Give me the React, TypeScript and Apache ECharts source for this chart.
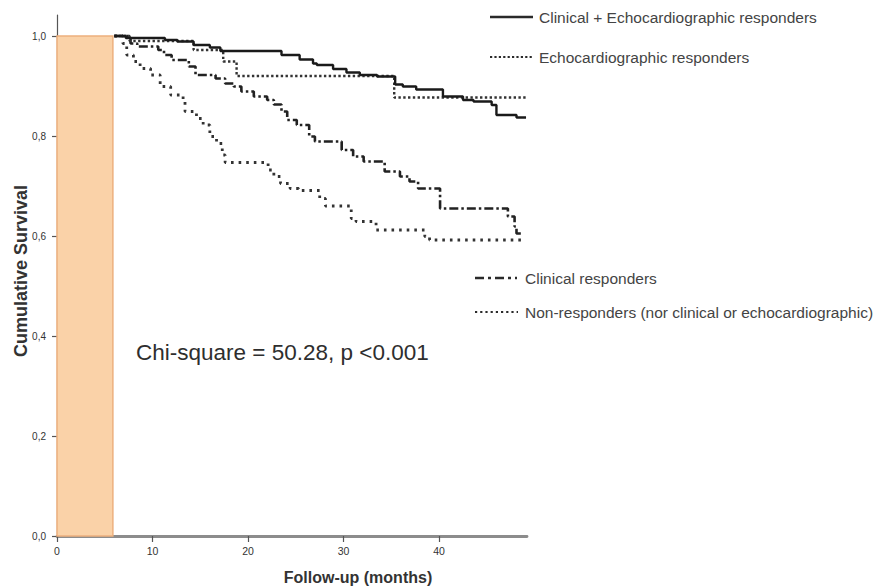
import React, { useEffect, useRef } from "react";
import * as echarts from "echarts";

// ---- data (months, cumulative survival) ----
const xTicks = [0, 10, 20, 30, 40];
const yTicks = [0, 0.2, 0.4, 0.6, 0.8, 1.0];

const seriesNames = [
  "Clinical + Echocardiographic responders",
  "Echocardiographic responders",
  "Clinical responders",
  "Non-responders (nor clinical or echocardiographic)",
];

const clinEcho: [number, number][] = [
  [6, 1.0], [7.2, 0.996], [11.3, 0.992], [12.6, 0.989], [14.3, 0.982], [16, 0.977],
  [17.1, 0.97], [23.5, 0.962], [25.4, 0.953], [26.8, 0.945], [27.2, 0.942],
  [28.9, 0.934], [30.3, 0.927], [31.7, 0.922], [33.5, 0.919], [35.4, 0.903],
  [36.2, 0.899], [37.6, 0.893], [40.4, 0.879], [42.5, 0.872], [43.6, 0.869],
  [45.5, 0.862], [46, 0.842], [48.1, 0.837], [49.1, 0.837],
];

const echoResp: [number, number][] = [
  [6, 1.0], [7.6, 0.99], [14.3, 0.972], [17.4, 0.949], [18.8, 0.92],
  [35.3, 0.877], [49.1, 0.877],
];

const clinResp: [number, number][] = [
  [6, 1.0], [7.7, 0.985], [8.4, 0.979], [10.6, 0.972], [11.2, 0.962], [12, 0.952],
  [13.8, 0.939], [14.5, 0.922], [16.6, 0.915], [17.6, 0.905], [18.5, 0.899],
  [19.3, 0.889], [20.6, 0.879], [22, 0.872], [22.7, 0.863], [23.5, 0.849],
  [24.1, 0.832], [25.1, 0.822], [26.4, 0.799], [27, 0.789], [29.8, 0.772],
  [31, 0.759], [32.1, 0.749], [34.3, 0.729], [35.9, 0.719], [36.9, 0.709],
  [37.8, 0.695], [40.1, 0.655], [47.2, 0.639], [47.9, 0.619], [48.1, 0.605],
  [48.8, 0.605],
];

const nonResp: [number, number][] = [
  [6, 1.0], [6.9, 0.985], [7.3, 0.962], [8, 0.949], [8.7, 0.935], [9.8, 0.922],
  [10.8, 0.899], [11.9, 0.882], [13.2, 0.869], [13.4, 0.849], [14.6, 0.835],
  [15.3, 0.822], [16, 0.799], [16.7, 0.785], [17.3, 0.762], [17.6, 0.747],
  [22.1, 0.732], [22.7, 0.719], [23.4, 0.705], [24.4, 0.695], [25.3, 0.691],
  [27.5, 0.675], [28.1, 0.66], [30.8, 0.635], [31.3, 0.629], [33.4, 0.612],
  [38.5, 0.599], [39, 0.592], [48.6, 0.592],
];

const shadedMonths = [0, 5.85];
const chiText = "Chi-square = 50.28, p <0.001";

export default function App() {
  const ref = useRef<HTMLDivElement>(null);

  useEffect(() => {
    if (!ref.current) return;
    const chart = echarts.init(ref.current, null, { renderer: "svg" });
    const font = "Arial, 'Liberation Sans', sans-serif";
    const txt = "#333";

    const legendItems = [
      { name: seriesNames[0], x1: 490, x2: 533, y: 17, dash: null as any, w: 2.4, tx: 539 },
      { name: seriesNames[1], x1: 490, x2: 533, y: 57, dash: [2.2, 2.2], w: 2.2, tx: 539 },
      { name: seriesNames[2], x1: 475, x2: 517, y: 278, dash: [9, 4, 3, 4], w: 2.6, tx: 525 },
      { name: seriesNames[3], x1: 475, x2: 518, y: 312, dash: [2.2, 3], w: 2.2, tx: 525 },
    ];

    const graphic: any[] = [];
    legendItems.forEach((it) => {
      graphic.push({
        type: "line",
        shape: { x1: it.x1, y1: it.y, x2: it.x2, y2: it.y },
        style: { stroke: "#2a2a2a", lineWidth: it.w, lineDash: it.dash || undefined },
      });
      graphic.push({
        type: "text",
        x: it.tx,
        y: it.y,
        style: { text: it.name, fill: "#444", font: `15.5px ${font}`, verticalAlign: "middle", align: "left" },
      });
    });
    graphic.push({
      type: "text",
      x: 136,
      y: 352,
      style: { text: chiText, fill: "#2e2e2e", font: `22.5px ${font}`, verticalAlign: "middle", align: "left" },
    });
    graphic.push({
      type: "text",
      x: 358,
      y: 577,
      style: { text: "Follow-up (months)", fill: "#333", font: `bold 16px ${font}`, verticalAlign: "middle", align: "center" },
    });
    graphic.push({
      type: "text",
      x: 21,
      y: 271,
      rotation: Math.PI / 2,
      style: { text: "Cumulative Survival", fill: "#333", font: `bold 18px ${font}`, verticalAlign: "middle", align: "center" },
    });

    const mk = (name: string, data: [number, number][], lineStyle: any, extra: any = {}) => ({
      name,
      type: "line",
      step: "end",
      data,
      symbol: "none",
      lineStyle,
      z: 3,
      ...extra,
    });

    chart.setOption({
      animation: false,
      backgroundColor: "#ffffff",
      grid: { left: 57, right: 347, top: 15, bottom: 51 },
      xAxis: {
        type: "value",
        min: 0,
        max: 49.2,
        axisLine: { show: true, onZero: false, lineStyle: { color: "#8c8c8c", width: 2.8 } },
        axisTick: { show: true, customValues: xTicks, length: 6, lineStyle: { color: "#555", width: 1.2 } },
        axisLabel: { customValues: xTicks, fontSize: 10.5, color: txt, margin: 9, fontFamily: font },
        splitLine: { show: false },
      },
      yAxis: {
        type: "value",
        min: 0,
        max: 1.042,
        axisLine: { show: true, lineStyle: { color: "#555", width: 1.2 } },
        axisTick: { show: true, customValues: yTicks, length: 5, lineStyle: { color: "#555", width: 1.2 } },
        axisLabel: {
          customValues: yTicks,
          fontSize: 10,
          color: txt,
          margin: 11,
          fontFamily: font,
          formatter: (v: number) => v.toFixed(1).replace(".", ","),
        },
        splitLine: { show: false },
      },
      series: [
        mk(seriesNames[3], nonResp, { color: "#333", width: 2.8, type: [2.6, 5] }, {
          markArea: {
            silent: true,
            itemStyle: { color: "#FAD2A8", borderColor: "#EDB07E", borderWidth: 1.5 },
            data: [[{ coord: [shadedMonths[0], 0] }, { coord: [shadedMonths[1], 1.0] }]],
            z: 1,
          },
        }),
        mk(seriesNames[2], clinResp, { color: "#222", width: 2.6, type: [9, 3, 2.5, 3] }),
        mk(seriesNames[1], echoResp, { color: "#333", width: 2.4, type: [2.4, 2.4] }),
        mk(seriesNames[0], clinEcho, { color: "#1a1a1a", width: 2.4, type: "solid" }),
      ],
      graphic,
    });

    return () => chart.dispose();
  }, []);

  return (
    <div
      ref={ref}
      style={{ position: "fixed", left: 0, top: 0, width: 874, height: 587, background: "#fff" }}
    />
  );
}
